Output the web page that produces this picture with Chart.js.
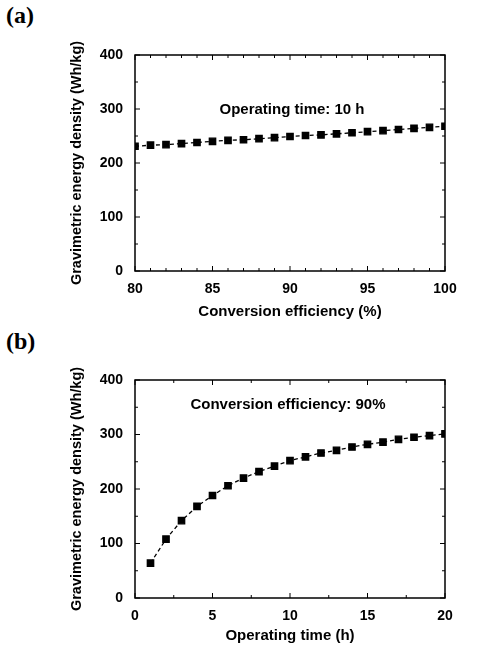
<!DOCTYPE html>
<html><head><meta charset="utf-8">
<script src="https://cdn.jsdelivr.net/npm/chart.js@4"></script>
<style>body{margin:0;background:#fff;width:477px;height:649px;position:relative;overflow:hidden}
canvas{position:absolute;left:0}
.lab{position:absolute;font:bold 24px "Liberation Serif",serif;left:6px}</style></head>
<body>
<div class="lab" style="top:2px">(a)</div>
<div class="lab" style="top:328px">(b)</div>
<div style="position:absolute;top:0;left:0;width:477px;height:325px"><canvas id="a"></canvas></div>
<div style="position:absolute;top:325px;left:0;width:477px;height:324px"><canvas id="b"></canvas></div>
<script>
const effX=[80,81,82,83,84,85,86,87,88,89,90,91,92,93,94,95,96,97,98,99,100];
const effY=[231,233,234,236,238,240,242,243,245,247,249,251,252,254,256,258,260,262,264,266,268];
const timeX=[1,2,3,4,5,6,7,8,9,10,11,12,13,14,15,16,17,18,19,20];
const timeY=[64,108,142,168,188,206,220,232,242,252,259,266,271,277,282,286,291,295,298,301];
const yTicks=[0,100,200,300,400];
const FONT='"Liberation Sans",Arial,sans-serif';
const frame={id:'frame',afterDatasetsDraw(c,a,o){const{ctx,chartArea:r,scales}=c;ctx.save();ctx.strokeStyle='#000';ctx.lineWidth=1.5;
ctx.strokeRect(r.left,r.top,r.right-r.left,r.bottom-r.top);ctx.lineWidth=1;
const x=scales.x,y=scales.y;
for(let v=x.min;v<=x.max+1e-9;v+=o.xminor){const p=x.getPixelForValue(v);const major=Math.abs(v/o.xmajor-Math.round(v/o.xmajor))<1e-6;const l=major?5:3;
ctx.beginPath();ctx.moveTo(p,r.bottom);ctx.lineTo(p,r.bottom-l);ctx.moveTo(p,r.top);ctx.lineTo(p,r.top+l);ctx.stroke();}
for(let v=0;v<=400;v+=50){const p=y.getPixelForValue(v);const l=v%100===0?5:3;
ctx.beginPath();ctx.moveTo(r.left,p);ctx.lineTo(r.left+l,p);ctx.moveTo(r.right,p);ctx.lineTo(r.right-l,p);ctx.stroke();}
ctx.font='bold 15px '+FONT;ctx.fillStyle='#000';ctx.textAlign='center';ctx.textBaseline='middle';ctx.fillText(o.text,o.tx,o.ty);ctx.restore();}};
function make(id,xs,ys,xmin,xmax,step,minor,title,text,tx,ty,bottom){
new Chart(document.getElementById(id),{type:'line',
data:{labels:xs,datasets:[{data:xs.map((x,i)=>({x,y:ys[i]})),borderColor:'#000',borderWidth:1.3,borderDash:[4,3],pointStyle:'rect',pointRadius:4.5,pointBackgroundColor:'#000',pointBorderColor:'#000',tension:0}]},
options:{responsive:true,maintainAspectRatio:false,animation:false,events:[],
layout:{padding:{left:68,right:32,top:55,bottom:0}},
plugins:{legend:{display:false},tooltip:{enabled:false},frame:{xminor:minor,xmajor:step,text,tx,ty}},
scales:{x:{type:'linear',min:xmin,max:xmax,grid:{display:false},border:{display:false},
ticks:{stepSize:step,color:'#000',font:{family:FONT,weight:'bold',size:14},padding:2},
title:{display:true,text:title,color:'#000',font:{family:FONT,weight:'bold',size:15},padding:{top:2}},afterFit(s){s.height=bottom;}},
y:{min:0,max:400,grid:{display:false},border:{display:false},afterBuildTicks(s){s.ticks=yTicks.map(v=>({value:v}));},
ticks:{color:'#000',font:{family:FONT,weight:'bold',size:14},padding:4},
title:{display:true,text:'Gravimetric energy density (Wh/kg)',color:'#000',font:{family:FONT,weight:'bold',size:14.5},padding:0},afterFit(s){s.width=67;}}}},
plugins:[frame]});}
make('a',effX,effY,80,100,5,1,'Conversion efficiency (%)','Operating time: 10 h',292,110,54);
make('b',timeX,timeY,0,20,5,2.5,'Operating time (h)','Conversion efficiency: 90%',288,80,51);
</script></body></html>
